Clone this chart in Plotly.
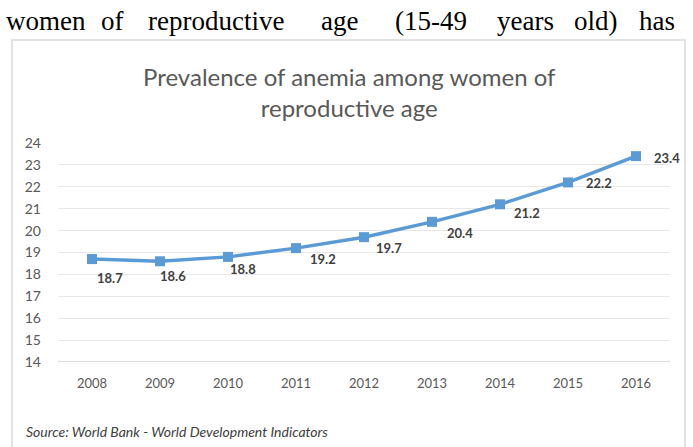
import plotly.graph_objects as go

years = ["2008", "2009", "2010", "2011", "2012", "2013", "2014", "2015", "2016"]
prevalence = [18.7, 18.6, 18.8, 19.2, 19.7, 20.4, 21.2, 22.2, 23.4]
y_ticks = list(range(14, 25))
heading_words = ["women", "of", "reproductive", "age", "(15-49", "years", "old)", "has"]

# label offsets (pixels) relative to each marker
label_dx = [18, 13, 15, 27, 25, 28, 27, 31, 31]
label_dy = [-19, -15, -12, -11, -11, -11, -9, -1, -2]
heading_cx = [46, 112, 216, 339, 431, 525, 596, 657]

W, H = 693, 447
PL, PR, PT, PB = 58, 670, 143, 362


def px(x):
    return (x - PL) / (PR - PL)


def py(y):
    return (PB - y) / (PB - PT)


fig = go.Figure()
fig.add_trace(go.Scatter(
    x=years, y=prevalence,
    mode="lines+markers",
    line=dict(color="#5B9BD5", width=3.5),
    marker=dict(symbol="square", size=10, color="#5B9BD5"),
    cliponaxis=False,
    hoverinfo="x+y",
))

annotations = []
for i, (v, dx, dy) in enumerate(zip(prevalence, label_dx, label_dy)):
    annotations.append(dict(
        text=f"<b>{v:.1f}</b>", x=i, y=v, xref="x", yref="y",
        xanchor="center", yanchor="middle", showarrow=False,
        xshift=dx, yshift=dy,
        font=dict(family="Lato", size=13, color="#404040"),
    ))
for w, x in zip(heading_words, heading_cx):
    annotations.append(dict(
        text=w, x=px(x), y=py(21), xref="paper", yref="paper",
        xanchor="center", yanchor="middle", showarrow=False,
        font=dict(family="Liberation Serif", size=27, color="#000000"),
    ))
annotations.append(dict(
    text="Prevalence of anemia among women of<br>reproductive age",
    x=px(349), y=py(92), xref="paper", yref="paper",
    xanchor="center", yanchor="middle", showarrow=False,
    font=dict(family="Lato", size=24, color="#595959"),
))
annotations.append(dict(
    text="<i>Source: World Bank - World Development Indicators</i>",
    x=px(24), y=py(431), xref="paper", yref="paper",
    xanchor="left", yanchor="middle", showarrow=False,
    font=dict(family="Lato", size=14, color="#404040"),
))

fig.update_layout(
    width=W, height=H,
    margin=dict(l=PL, r=W - PR, t=PT, b=H - PB),
    paper_bgcolor="white", plot_bgcolor="white",
    showlegend=False,
    annotations=annotations,
    shapes=[dict(
        type="rect", xref="paper", yref="paper",
        x0=px(12), x1=px(685), y0=py(460), y1=py(40),
        line=dict(color="#d9d9d9", width=1.5), fillcolor="rgba(0,0,0,0)",
        layer="below",
    )],
    xaxis=dict(
        type="category", range=[-0.5, 8.5],
        showgrid=False, showline=False, zeroline=False,
        ticks="", ticklabelstandoff=12,
        tickfont=dict(family="Lato", size=13, color="#595959"),
        fixedrange=True,
    ),
    yaxis=dict(
        range=[14, 24], tickvals=y_ticks,
        showgrid=True, gridcolor="#e8e8e8", gridwidth=1,
        zeroline=False, showline=False,
        ticks="", ticklabelstandoff=16,
        tickfont=dict(family="Lato", size=14, color="#595959"),
        fixedrange=True,
    ),
)
fig.add_hline(y=14, line=dict(color="#d0d0d0", width=1.5))

fig.write_html("out.html", config={"displayModeBar": False},
               post_script="document.body.style.margin='0';")
